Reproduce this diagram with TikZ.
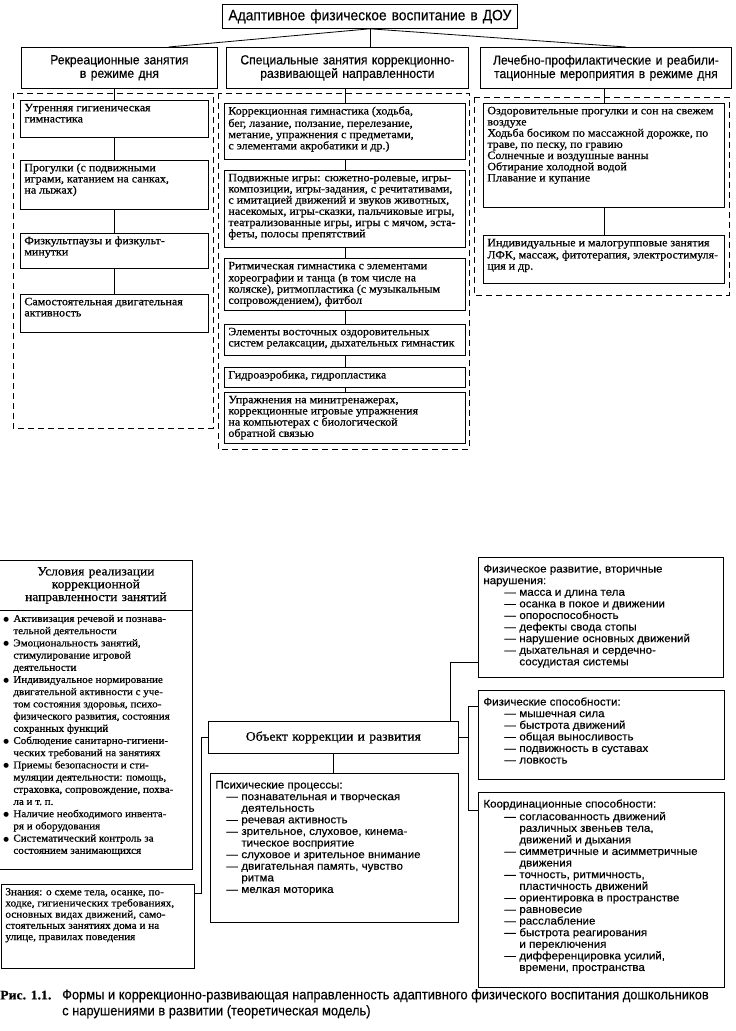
\documentclass[tikz,border=0pt]{standalone}
\usepackage{fontspec}
\setmainfont{Liberation Serif}
\newfontfamily\bodyfont[FakeStretch=1.06,FakeBold=0.7]{Liberation Serif}
\newfontfamily\hdfont[FakeStretch=0.92,FakeBold=0.3]{Liberation Sans}
\newfontfamily\listfont[FakeStretch=1.05,FakeBold=0.4]{Liberation Sans}
\newfontfamily\symfont{DejaVu Sans}
\usepackage{tikz}
\usetikzlibrary{calc}

\newcommand{\cellbox}[3]{\parbox[c][#2][t]{#1}{\raggedright\strut#3}}
\newcommand{\bitem}{\makebox[10pt][l]{\raisebox{0.4pt}{\symfont\fontsize{6.5}{6.5}\selectfont ●}}}
\newcommand{\bcont}{\hspace*{10pt}}
\newcommand{\dashit}[1][21pt]{\hspace*{#1}\makebox[15pt][l]{—}}
\newcommand{\dashcont}[1][21pt]{\hspace*{\dimexpr#1+15pt\relax}}

\begin{document}
\begin{tikzpicture}[x=1pt,y=-1pt,
    box/.style={draw, line width=0.8pt, anchor=north west, inner xsep=4pt, inner ysep=3pt,
        font=\bodyfont\fontsize{11.3}{11.2}\selectfont},
    head/.style={draw, line width=0.8pt, anchor=north west, inner sep=2pt, align=center,
        font=\hdfont\fontsize{13.2}{13.5}\selectfont},
    lst/.style={draw, line width=0.8pt, anchor=north west, inner xsep=5pt, inner ysep=7pt,
        font=\listfont\fontsize{11}{11.6}\selectfont},
    zone/.style={dash pattern=on 6pt off 4pt, line width=0.7pt},
    link/.style={line width=0.8pt}]
    \useasboundingbox (0,0) rectangle (736,1031);

    \node[head, text width=291pt, minimum height=24pt, font=\hdfont\fontsize{15}{16}\selectfont] (ttl) at (222,4) {Адаптивное физическое воспитание в ДОУ};
    \node[head, text width=192pt, minimum height=41pt] (rec) at (21,47) {Рекреационные занятия\\в режиме дня};
    \node[head, text width=238pt, minimum height=41pt] (spec) at (226,47) {Специальные занятия коррекционно-\\развивающей направленности};
    \node[head, text width=247pt, minimum height=41pt] (med) at (480,47) {Лечебно-профилактические и реабили-\\тационные мероприятия в режиме дня};
    \draw[link] (ttl.south) -- ($(rec.north west)!0.75!(rec.north east)$);
    \draw[link] (ttl.south) -- (ttl.south |- spec.north);
    \draw[link] (ttl.south) -- ($(med.north west)!0.58!(med.north east)$);

    \draw[zone] (13,93) rectangle (213,428);
    \draw[zone] (218,93) rectangle (469,449);
    \draw[zone] (474,97) rectangle (729,295);

    \node[box] (morn) at (20,100) {\cellbox{180pt}{31pt}{Утренняя гигиеническая\\гимнастика}};
    \node[box] (walk) at (20,160) {\cellbox{180pt}{43pt}{Прогулки (с подвижными\\играми, катанием на санках,\\на лыжах)}};
    \node[box] (pause) at (20,233) {\cellbox{180pt}{29pt}{Физкультпаузы и физкульт-\\минутки}};
    \node[box] (self) at (20,294) {\cellbox{180pt}{32pt}{Самостоятельная двигательная\\активность}};
    \draw[link] (rec.south -| morn.north) -- (morn.north);
    \draw[link] (morn.south) -- (walk.north);
    \draw[link] (walk.south) -- (pause.north);
    \draw[link] (pause.south) -- (self.north);

    \node[box] (gym) at (224,103) {\cellbox{233pt}{50pt}{Коррекционная гимнастика (ходьба,\\бег, лазание, ползание, перелезание,\\метание, упражнения с предметами,\\с элементами акробатики и др.)}};
    \node[box] (games) at (224,170) {\cellbox{233pt}{71pt}{Подвижные игры: сюжетно-ролевые, игры-\\композиции, игры-задания, с речитативами,\\с имитацией движений и звуков животных,\\насекомых, игры-сказки, пальчиковые игры,\\театрализованные игры, игры с мячом, эста-\\феты, полосы препятствий}};
    \node[box] (rhythm) at (224,258) {\cellbox{233pt}{46pt}{Ритмическая гимнастика с элементами\\хореографии и танца (в том числе на\\коляске), ритмопластика (с музыкальным\\сопровождением), фитбол}};
    \node[box] (east) at (224,324) {\cellbox{233pt}{25pt}{Элементы восточных оздоровительных\\систем релаксации, дыхательных гимнастик}};
    \node[box] (hydro) at (224,367) {\cellbox{233pt}{14pt}{Гидроаэробика, гидропластика}};
    \node[box] (train) at (224,392) {\cellbox{233pt}{45pt}{Упражнения на минитренажерах,\\коррекционные игровые упражнения\\на компьютерах с биологической\\обратной связью}};
    \draw[link] (spec.south -| gym.north) -- (gym.north);
    \draw[link] (gym.south) -- (games.north);
    \draw[link] (games.south) -- (rhythm.north);
    \draw[link] (rhythm.south) -- (east.north);
    \draw[link] (east.south) -- (hydro.north);
    \draw[link] (hydro.south) -- (train.north);

    \node[box] (heal) at (483,103) {\cellbox{233pt}{98pt}{Оздоровительные прогулки и сон на свежем\\воздухе\\Ходьба босиком по массажной дорожке, по\\траве, по песку, по гравию\\Солнечные и воздушные ванны\\Обтирание холодной водой\\Плавание и купание}};
    \node[box] (indiv) at (483,235) {\cellbox{233pt}{42pt}{Индивидуальные и малогрупповые занятия\\ЛФК, массаж, фитотерапия, электростимуля-\\ция и др.}};
    \draw[link] (med.south -| heal.north) -- (heal.north);
    \draw[link] (heal.south) -- (indiv.north);

    \node[box, align=center, text width=185pt, minimum height=50pt, font=\bodyfont\fontsize{12.7}{12.8}\selectfont] (condh) at (-1,560) {Условия реализации\\коррекционной\\направленности занятий};
    \node[box, font=\bodyfont\fontsize{10.4}{12.2}\selectfont] (cond) at (-1,610) {\cellbox{185pt}{253pt}{\bitem Активизация речевой и познава-\\\bcont тельной деятельности\\\bitem Эмоциональность занятий,\\\bcont стимулирование игровой\\\bcont деятельности\\\bitem Индивидуальное нормирование\\\bcont двигательной активности с уче-\\\bcont том состояния здоровья, психо-\\\bcont физического развития, состояния\\\bcont сохранных функций\\\bitem Соблюдение санитарно-гигиени-\\\bcont ческих требований на занятиях\\\bitem Приемы безопасности и сти-\\\bcont муляции деятельности: помощь,\\\bcont страховка, сопровождение, похва-\\\bcont ла и т.~п.\\\bitem Наличие необходимого инвента-\\\bcont ря и оборудования\\\bitem Систематический контроль за\\\bcont состоянием занимающихся}};
    \node[box, font=\bodyfont\fontsize{10.6}{11.2}\selectfont] (know) at (1,884) {\cellbox{185pt}{78pt}{Знания: о схеме тела, осанке, по-\\ходке, гигиенических требованиях,\\основных видах движений, само-\\стоятельных занятиях дома и на\\улице, правилах поведения}};

    \node[box, align=center, text width=242pt, minimum height=32pt, font=\bodyfont\fontsize{12.9}{13}\selectfont] (obj) at (208,721) {Объект коррекции и развития};
    \node[lst] (psy) at (210,773) {\cellbox{238pt}{135pt}{Психические процессы:\\\dashit[11pt]познавательная и творческая\\\dashcont[11pt]деятельность\\\dashit[11pt]речевая активность\\\dashit[11pt]зрительное, слуховое, кинема-\\\dashcont[11pt]тическое восприятие\\\dashit[11pt]слуховое и зрительное внимание\\\dashit[11pt]двигательная память, чувство\\\dashcont[11pt]ритма\\\dashit[11pt]мелкая моторика}};

    \node[lst] (phys) at (478,557) {\cellbox{235pt}{106pt}{Физическое развитие, вторичные\\нарушения:\\\dashit масса и длина тела\\\dashit осанка в покое и движении\\\dashit опороспособность\\\dashit дефекты свода стопы\\\dashit нарушение основных движений\\\dashit дыхательная и сердечно-\\\dashcont сосудистая системы}};
    \node[lst] (abil) at (478,690) {\cellbox{236pt}{75pt}{Физические способности:\\\dashit мышечная сила\\\dashit быстрота движений\\\dashit общая выносливость\\\dashit подвижность в суставах\\\dashit ловкость}};
    \node[lst] (coord) at (478,792) {\cellbox{236pt}{181pt}{Координационные способности:\\\dashit согласованность движений\\\dashcont различных звеньев тела,\\\dashcont движений и дыхания\\\dashit симметричные и асимметричные\\\dashcont движения\\\dashit точность, ритмичность,\\\dashcont пластичность движений\\\dashit ориентировка в пространстве\\\dashit равновесие\\\dashit расслабление\\\dashit быстрота реагирования\\\dashcont и переключения\\\dashit дифференцировка усилий,\\\dashcont времени, пространства}};

    \draw[link] (obj.south) -- (obj.south |- psy.north);
    \draw[link] (obj.west) -- ++(-7,0) |- ([yshift=-9pt]know.north east);
    \draw[link] ([xshift=-8pt]obj.north east) |- ([yshift=15pt]phys.south west);
    \coordinate (rj) at ($(obj.east)+(10,0)$);
    \draw[link] (obj.east) -- (rj);
    \draw[link] ([yshift=-16pt]abil.north west) -| (rj) |- ([yshift=-18pt]coord.north west);

    \node[anchor=north west, inner sep=0pt, align=left, font=\hdfont\fontsize{14}{16}\selectfont] (cap) at (0,989) {\makebox[62pt][l]{\bodyfont\fontsize{13}{16}\selectfont\bfseries Рис. 1.1.}Формы и коррекционно-развивающая направленность адаптивного физического воспитания дошкольников\\\hspace*{62pt}с нарушениями в развитии (теоретическая модель)};
\end{tikzpicture}
\end{document}
